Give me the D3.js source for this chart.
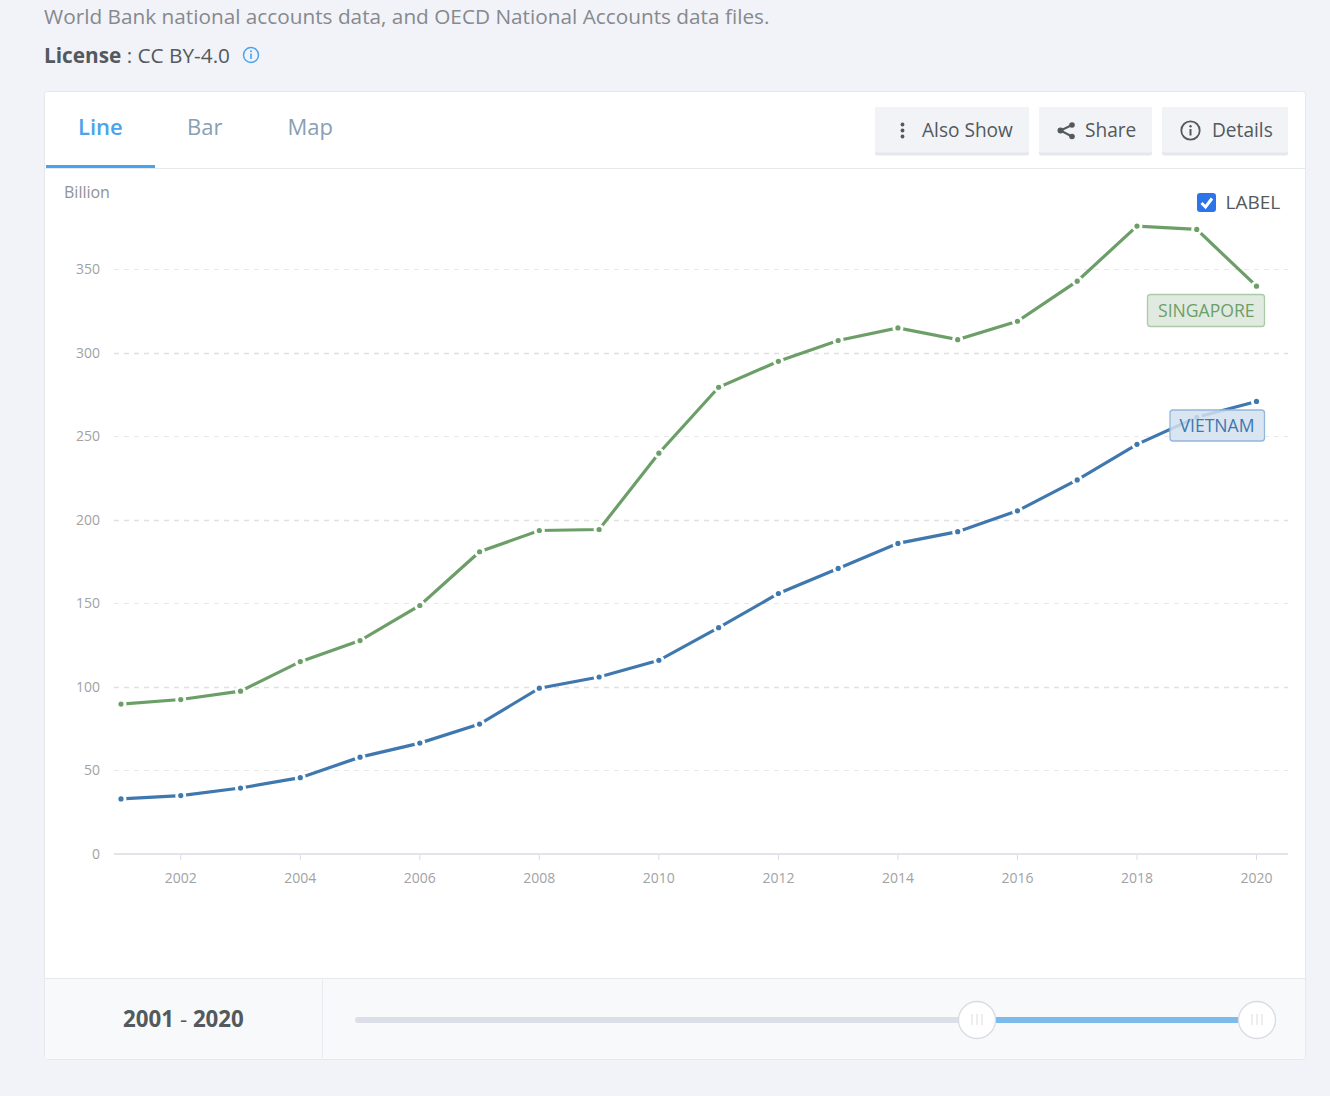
<!DOCTYPE html>
<html><head><meta charset="utf-8">
<script src="https://cdnjs.cloudflare.com/ajax/libs/d3/7.8.5/d3.min.js"></script>
<style>
html,body{margin:0;padding:0;background:#f1f3f8;overflow:hidden}
svg{display:block;font-family:"Open Sans",sans-serif}
text{font-family:"Open Sans",sans-serif}
</style></head><body>
<svg id="c" width="1330" height="1096"></svg>
<script>
const years=d3.range(2001,2021);
const singapore=[89.8,92.5,97.5,115.2,127.8,148.8,181,193.7,194.3,240,279.5,295,307.5,315,308,319,343,376,374,340];
const vietnam=[33,35,39.5,45.7,58,66.4,77.8,99.3,106,116,135.5,156,171,186,193,205.5,224,245.3,261.5,271];
const yTicks=[0,50,100,150,200,250,300,350];
const xTicks=[2002,2004,2006,2008,2010,2012,2014,2016,2018,2020];
const seriesList=[{name:"SINGAPORE",values:singapore,color:"#6c9f68"},{name:"VIETNAM",values:vietnam,color:"#3f78af"}];

const svg=d3.select("#c");
const x=d3.scaleLinear().domain([2001,2020]).range([121,1256.5]);
const y=d3.scaleLinear().domain([0,350]).range([854,269.5]);

const T=(s,px,py,size,fill,weight,anchor)=>svg.append("text").attr("x",px).attr("y",py).attr("font-size",size).attr("fill",fill).attr("font-weight",weight||400).attr("text-anchor",anchor||"start").text(s);

// header
T("World Bank national accounts data, and OECD National Accounts data files.",44,24,20.77,"#86898d");
const lic=T("",44,63,20.77,"#53595d");
lic.append("tspan").attr("font-weight",700).text("License");
lic.append("tspan").text(" : CC BY-4.0");
const inf=svg.append("g").attr("transform","translate(251,55)");
inf.append("circle").attr("r",7.5).attr("fill","none").attr("stroke","#4aa3ee").attr("stroke-width",1.5);
inf.append("rect").attr("x",-.8).attr("y",-1.5).attr("width",1.6).attr("height",5.5).attr("fill","#4aa3ee");
inf.append("circle").attr("cy",-3.8).attr("r",1).attr("fill","#4aa3ee");

// card
svg.append("rect").attr("x",44.5).attr("y",91.5).attr("width",1261).attr("height",968).attr("rx",3).attr("fill","#fff").attr("stroke","#e6e8ec");
svg.append("line").attr("x1",45).attr("x2",1305).attr("y1",168.5).attr("y2",168.5).attr("stroke","#e6e8ec");
svg.append("rect").attr("x",46).attr("y",165).attr("width",109).attr("height",3).attr("fill","#4aa3ee");
T("Line",78,135,22,"#4aa3ee",600);
T("Bar",187,135,22,"#87a0b3");
T("Map",287.5,135,22,"#87a0b3");

// buttons
[[875,154,"Also Show",922],[1039,113,"Share",1085],[1162,126,"Details",1212]].forEach(b=>{
  svg.append("rect").attr("x",b[0]).attr("y",107).attr("width",b[1]).attr("height",48.5).attr("rx",2).attr("fill","#e5e7ec");
  svg.append("rect").attr("x",b[0]).attr("y",107).attr("width",b[1]).attr("height",45.5).attr("rx",2).attr("fill","#f1f3f7");
  T(b[2],b[3],136.5,19.1,"#53595d");
});
[124.5,130.5,136.5].forEach(cy=>svg.append("circle").attr("cx",902.5).attr("cy",cy).attr("r",1.9).attr("fill","#53595d"));
const sh=[[1072,125],[1060.5,130.5],[1072,136.5]];
svg.append("path").attr("d",d3.line()(sh)).attr("fill","none").attr("stroke","#53595d").attr("stroke-width",2);
sh.forEach((p,i)=>svg.append("circle").attr("cx",p[0]).attr("cy",p[1]).attr("r",i==1?3:2.8).attr("fill","#53595d"));
const di=svg.append("g").attr("transform","translate(1190.5,130.5)");
di.append("circle").attr("r",9.2).attr("fill","none").attr("stroke","#53595d").attr("stroke-width",1.8);
di.append("rect").attr("x",-1).attr("y",-1.5).attr("width",2).attr("height",6.5).attr("fill","#53595d");
di.append("circle").attr("cy",-4.3).attr("r",1.2).attr("fill","#53595d");

// checkbox
svg.append("rect").attr("x",1197).attr("y",193).attr("width",19).attr("height",19).attr("rx",3).attr("fill","#2b74ea");
svg.append("path").attr("d","M1201.5 203 L1205.5 207 L1212 198.5").attr("fill","none").attr("stroke","#fff").attr("stroke-width",3);
T("LABEL",1225.5,209,19,"#53595d");
T("Billion",64,198,16,"#909294");

// grid
svg.append("g").selectAll("line").data(yTicks.filter(d=>d>0)).join("line")
  .attr("x1",114).attr("x2",1288).attr("y1",d=>Math.floor(y(d))+.5).attr("y2",d=>Math.floor(y(d))+.5)
  .attr("stroke",d=>d%100==0?"#dfe0e2":"#e8e8ea").attr("stroke-width",d=>d%100==0?1.4:1).attr("stroke-dasharray","5 5");

// axes via d3
const gx=svg.append("g").attr("transform","translate(-0.5,854)")
  .call(d3.axisBottom(x).tickValues(xTicks).tickFormat(d3.format("d")).tickSize(6).tickPadding(13));
gx.select(".domain").remove();
gx.selectAll("line").attr("stroke","#d9dde2");
gx.selectAll("text").attr("fill","#a0a2a5").attr("font-size",14).style("font-family",'"Open Sans",sans-serif');
svg.append("line").attr("x1",114).attr("x2",1288).attr("y1",854).attr("y2",854).attr("stroke","#e1e4e9").attr("stroke-width",2);
const gy=svg.append("g").attr("transform","translate(100,0)")
  .call(d3.axisLeft(y).tickValues(yTicks).tickSize(0).tickPadding(0));
gy.select(".domain").remove();
gy.selectAll("text").attr("fill","#a0a2a5").attr("font-size",14).style("font-family",'"Open Sans",sans-serif');

// series
const line=d3.line().x((d,i)=>x(years[i])).y(d=>y(d));
seriesList.forEach(s=>{
  const g=svg.append("g");
  g.append("path").attr("d",line(s.values)).attr("fill","none").attr("stroke",s.color).attr("stroke-width",3.2);
  g.selectAll(".halo").data(s.values).join("circle").attr("class","halo").attr("cx",(d,i)=>x(years[i])).attr("cy",d=>y(d)).attr("r",5.5).attr("fill","#fff");
  g.selectAll(".dot").data(s.values).join("circle").attr("class","dot").attr("cx",(d,i)=>x(years[i])).attr("cy",d=>y(d)).attr("r",2.6).attr("fill",s.color);
});

// value labels
svg.append("rect").attr("x",1147.5).attr("y",294.5).attr("width",117).attr("height",32).attr("rx",3).attr("fill","#dfe9df").attr("fill-opacity",.95).attr("stroke","#a9cca6").attr("stroke-width",1.3);
T("SINGAPORE",1158,317,17.6,"#6c9f68");
svg.append("rect").attr("x",1170).attr("y",410).attr("width",94.5).attr("height",31).attr("rx",3).attr("fill","#d3e1f0").attr("fill-opacity",.85).attr("stroke","#93b7d9").attr("stroke-width",1.3);
T("VIETNAM",1179.5,432,17.6,"#3f78af");

// footer slider
svg.append("path").attr("d","M45 978.5H1305V1056a3 3 0 0 1 -3 3H48a3 3 0 0 1 -3 -3Z").attr("fill","#f8f9fb");
svg.append("line").attr("x1",45).attr("x2",1305).attr("y1",978.5).attr("y2",978.5).attr("stroke","#e6e8ec");
svg.append("line").attr("x1",322.5).attr("x2",322.5).attr("y1",980).attr("y2",1058).attr("stroke","#e9ebef");
const rng=T("",183.5,1027,22.3,"#53595d",700,"middle");
rng.append("tspan").text("2001");
rng.append("tspan").attr("font-weight",400).text(" - ");
rng.append("tspan").text("2020");
svg.append("rect").attr("x",355).attr("y",1017).attr("width",625).attr("height",6).attr("rx",3).attr("fill","#dcdfe8");
svg.append("rect").attr("x",977).attr("y",1017).attr("width",280).attr("height",6).attr("fill","#7cbbec");
[977,1257].forEach(cx=>{
  svg.append("circle").attr("cx",cx).attr("cy",1020).attr("r",18.5).attr("fill","#fff").attr("stroke","#d8dce2").attr("stroke-width",1.3);
  [-5,0,5].forEach(o=>svg.append("line").attr("x1",cx+o).attr("x2",cx+o).attr("y1",1014).attr("y2",1025).attr("stroke","#dcdcdc"));
});
</script></body></html>
